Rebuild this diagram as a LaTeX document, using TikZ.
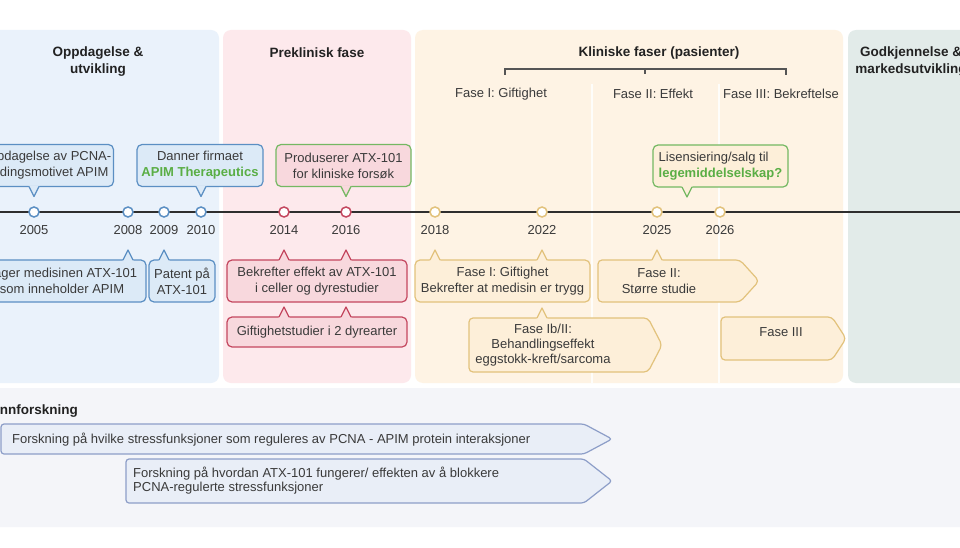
\documentclass[tikz,border=0pt]{standalone}
\usepackage{fontspec}
\setmainfont{Liberation Sans}
\usetikzlibrary{calc}
\definecolor{txt}{HTML}{3A3A3A}
\definecolor{hdrtxt}{HTML}{222222}
\definecolor{panelBlue}{HTML}{EAF2FB}
\definecolor{panelPink}{HTML}{FDE9EC}
\definecolor{panelOrange}{HTML}{FEF3E4}
\definecolor{panelGreen}{HTML}{E2EBE9}
\definecolor{panelGray}{HTML}{F4F5F9}
\definecolor{blueFill}{HTML}{DCEAF7}
\definecolor{blueLine}{HTML}{5B8FC3}
\definecolor{redFill}{HTML}{F8D8DD}
\definecolor{redLine}{HTML}{C4475F}
\definecolor{goldFill}{HTML}{FDEFD9}
\definecolor{goldLine}{HTML}{E2C27C}
\definecolor{greenLine}{HTML}{74B862}
\definecolor{greenTxt}{HTML}{5AAE45}
\definecolor{resFill}{HTML}{E9EEF7}
\definecolor{resLine}{HTML}{8D9EC8}
\definecolor{tline}{HTML}{2E2E2E}
\definecolor{brk}{HTML}{555555}

\tikzset{
  basetxt/.style={font=\fontsize{13}{16}\selectfont, text=txt},
  hdr/.style={font=\fontsize{13.5}{17}\selectfont\bfseries, text=hdrtxt, align=center},
  phaselbl/.style={basetxt},
  yearlbl/.style={basetxt},
  callout/.style={basetxt, rounded corners=5pt, line width=1.2pt, outer sep=0pt, inner sep=2pt, minimum height=42pt, align=center},
  bluebox/.style={callout, fill=blueFill, draw=blueLine},
  redbox/.style={callout, fill=redFill, draw=redLine},
  goldbox/.style={callout, fill=goldFill, draw=goldLine},
  prodbox/.style={callout, fill=redFill, draw=greenLine},
  licbox/.style={callout, fill=goldFill, draw=greenLine, align=left},
  goldarrow/.style={fill=goldFill, draw=goldLine, line width=1.2pt, rounded corners=4pt},
  resarrow/.style={fill=resFill, draw=resLine, line width=1.2pt, rounded corners=3pt},
  dotnode/.style={circle, fill=white, line width=1.5pt, inner sep=0pt, minimum size=10pt},
  timeline/.style={draw=tline, line width=2.4pt},
  bracketline/.style={draw=brk, line width=1.2pt},
  sep/.style={draw=white, line width=2.5pt, opacity=0.85},
  grn/.style={}
}

\newcommand{\ptr}[4]{%
  \coordinate (pb) at (#1);
  \fill[#3] ($(pb)+(-5.6,{-1.2*(#2)})$) -- ($(pb)+(5.6,{-1.2*(#2)})$) -- ($(pb)+(0,{10*(#2)})$) -- cycle;
  \draw[#4, line width=1.2pt, line join=round] ($(pb)+(-5,0)$) -- ($(pb)+(0,{10*(#2)})$) -- ($(pb)+(5,0)$);
}
\newcommand{\arrowshape}[6]{%
  \draw[#1] (#2,#3) -- (#4,#3) -- (#6,{(#3+#5)/2}) -- (#4,#5) -- (#2,#5) -- cycle;
}
\newcommand{\gtx}[1]{\textcolor{greenTxt}{\bfseries #1}}

\begin{document}
\begin{tikzpicture}[x=1pt,y=-1pt]
\useasboundingbox (0,0) rectangle (960,548);
\clip (0,0) rectangle (960,548);
\fill[white] (0,0) rectangle (960,548);

% panels
\fill[panelBlue, rounded corners=8pt] (-20,30) rectangle (219,383);
\fill[panelPink, rounded corners=8pt] (223,30) rectangle (411,383);
\fill[panelOrange, rounded corners=8pt] (415,30) rectangle (843,383);
\fill[panelGreen, rounded corners=8pt] (848,30) rectangle (990,383);
\fill[panelGray, rounded corners=8pt] (-20,388) rectangle (990,527);
\draw[sep] (592,84) -- (592,383);
\draw[sep] (719,84) -- (719,383);

% headers
\node[hdr] (hOpp) at (98,61.5) {Oppdagelse \&\\utvikling};
\node[hdr] (hPre) at (317,53) {Preklinisk fase};
\node[hdr] (hKlin) at (659,53) {Kliniske faser (pasienter)};
\node[hdr] (hGod) at (911,61.5) {Godkjennelse \&\\markedsutvikling};
\node[hdr, anchor=east, inner sep=0pt] (hGrunn) at (78,411) {Grunnforskning};

% bracket
\coordinate (bkL) at (505,75);
\coordinate (bkR) at (786,75);
\coordinate (bkM) at (645,69);
\draw[bracketline] (bkL) -- (505,69) -- (786,69) -- (bkR);
\draw[bracketline] (bkM) -- (645,74.5);

% phase labels
\node[phaselbl] (pI) at (501,94) {Fase I: Giftighet};
\node[phaselbl] (pII) at (653,94) {Fase II: Effekt};
\node[phaselbl] (pIII) at (781,94) {Fase III: Bekreftelse};

% timeline
\coordinate (tlL) at (-5,212);
\coordinate (tlR) at (965,212);
\draw[timeline] (tlL) -- (tlR);

\foreach \yr/\xx/\cc in {2005/34/blueLine,2008/128/blueLine,2009/164/blueLine,2010/201/blueLine,
  2014/284/redLine,2016/346/redLine,2018/435/goldLine,2022/542/goldLine,2025/657/goldLine,2026/720/goldLine}{
  \node[dotnode, draw=\cc] (d\yr) at (\xx,212) {};
  \node[yearlbl] (y\yr) at (\xx,230) {\yr};
}

% callouts above the line
\node[bluebox, minimum width=136pt] (cB1) at (45.5,165.5) {Oppdagelse av PCNA-\\bindingsmotivet APIM};
\node[bluebox, minimum width=126pt] (cB2) at (200,165.5) {Danner firmaet\\\gtx{APIM Therapeutics}};
\node[prodbox, minimum width=135pt] (cP) at (343.5,165.5) {Produserer ATX-101\\for kliniske forsøk};
\node[licbox, minimum width=135pt] (cL) at (720.5,166) {Lisensiering/salg til\\\gtx{legemiddelselskap?}};
\coordinate (licptr) at (687,212);

\ptr{d2005|-cB1.south}{1}{blueFill}{blueLine}
\ptr{d2010|-cB2.south}{1}{blueFill}{blueLine}
\ptr{d2016|-cP.south}{1}{redFill}{greenLine}
\ptr{licptr|-cL.south}{1}{goldFill}{greenLine}

% callouts below the line
\node[bluebox, minimum width=168pt] (cB3) at (62,281) {Lager medisinen ATX-101\\som inneholder APIM};
\node[bluebox, minimum width=66pt] (cB4) at (182,281) {Patent på\\ATX-101};
\node[redbox, minimum width=180pt] (cR1) at (317,281) {Bekrefter effekt av ATX-101\\i celler og dyrestudier};
\node[redbox, minimum width=180pt, minimum height=30pt] (cR2) at (317,332) {Giftighetstudier i 2 dyrearter};
\node[goldbox, minimum width=175pt] (cY1) at (502.5,281) {Fase I: Giftighet\\Bekrefter at medisin er trygg};

\ptr{d2008|-cB3.north}{-1}{blueFill}{blueLine}
\ptr{d2009|-cB4.north}{-1}{blueFill}{blueLine}
\ptr{d2014|-cR1.north}{-1}{redFill}{redLine}
\ptr{d2016|-cR1.north}{-1}{redFill}{redLine}
\ptr{d2014|-cR2.north}{-1}{redFill}{redLine}
\ptr{d2016|-cR2.north}{-1}{redFill}{redLine}
\ptr{d2018|-cY1.north}{-1}{goldFill}{goldLine}
\ptr{d2022|-cY1.north}{-1}{goldFill}{goldLine}

% phase arrows
\arrowshape{goldarrow}{598}{260}{740}{302}{759}
\coordinate (fIItop) at (598,260);
\node[basetxt, align=center] (fII) at (659,281) {Fase II:\\Større studie};
\ptr{d2025|-fIItop}{-1}{goldFill}{goldLine}

\arrowshape{goldarrow}{469}{318}{648}{372}{662}
\coordinate (fIbtop) at (469,318);
\node[basetxt, align=center, font=\fontsize{13}{15}\selectfont] (fIb) at (543,345) {Fase Ib/II:\\Behandlingseffekt\\eggstokk-kreft/sarcoma};
\ptr{d2022|-fIbtop}{-1}{goldFill}{goldLine}

\arrowshape{goldarrow}{721}{317}{832}{360}{846}
\node[basetxt] (fIII) at (781,332) {Fase III};

% basic research arrows
\arrowshape{resarrow}{1}{424}{584}{454}{612}
\node[basetxt, anchor=west, inner sep=0pt] (r1) at (12,439.5) {Forskning på hvilke stressfunksjoner som reguleres av PCNA - APIM protein interaksjoner};
\arrowshape{resarrow}{126}{459}{584}{503}{612}
\node[basetxt, anchor=west, inner sep=0pt, align=left, font=\fontsize{13}{14.5}\selectfont] (r2) at (133,480.5) {Forskning på hvordan ATX-101 fungerer/ effekten av å blokkere\\PCNA-regulerte stressfunksjoner};
\end{tikzpicture}
\end{document}
